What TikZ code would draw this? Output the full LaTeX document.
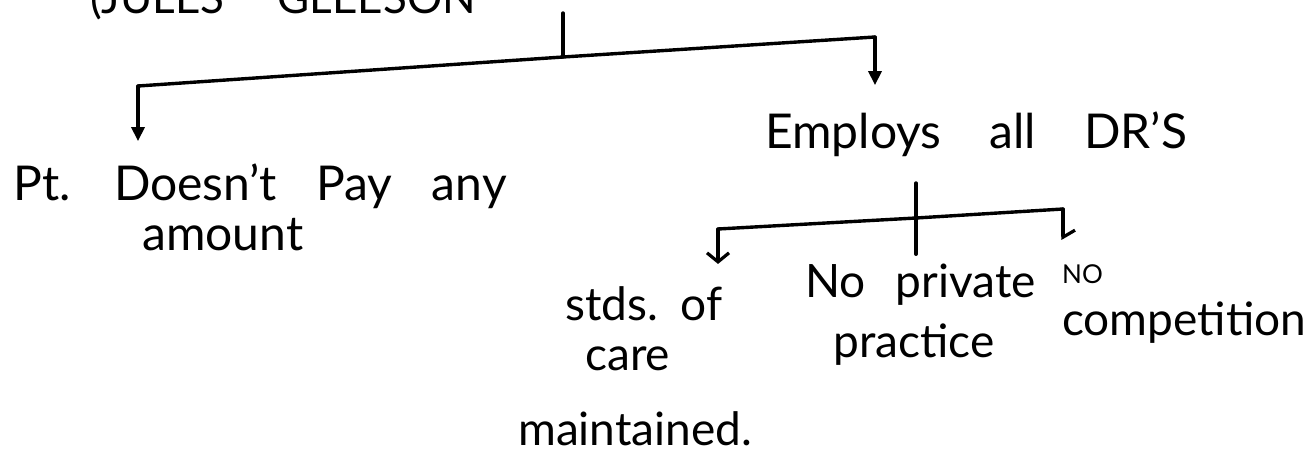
\documentclass[tikz,border=0pt]{standalone}
\usepackage{fontspec}
\setmainfont{Lato}
\usetikzlibrary{arrows.meta}
\newcommand{\wsp}[1]{\spaceskip=#1 plus 0.05em minus 0.05em\relax}
\tikzset{
  hand/.style={inner sep=0pt, anchor=base west, text=black},
  big/.style={hand, font=\fontsize{48}{52}\selectfont\wsp{0.82em}},
  mid/.style={hand, font=\fontsize{46}{52}\selectfont\wsp{0.5em}},
  link/.style={line width=3.4pt, line cap=round, line join=round, black},
  tri/.style={link, -{Triangle[length=14pt,width=13pt]}},
  barb/.style={link, -{Straight Barb[length=9pt,width=22pt,line width=3.2pt]}},
  halfbarb/.style={link, -{Straight Barb[left,length=7pt,width=24pt,line width=3.2pt]}},
}
\begin{document}
\begin{tikzpicture}[x=1pt,y=-1pt]
\useasboundingbox (0,0) rectangle (1314,453);
\fill[white] (0,0) rectangle (1314,453);
\clip (0,0) rectangle (1314,453);
% cut-off title
\node[hand, font=\fontsize{44}{50}\selectfont\wsp{1.2em}] (title) at (90,13) {(JULES GLEESON};
% first level
\coordinate (t0) at (563,13);
\coordinate (j1) at (563,57);
\coordinate (l1) at (138,86);
\coordinate (r1) at (875,37);
\node[big] (pt) at (13,200) {Pt. Doesn’t Pay any};
\node[big] (pt2) at (142,250) {amount};
\node[big, font=\fontsize{48}{52}\selectfont\wsp{1.0em}] (emp) at (765,148) {Employs all DR’S};
\draw[link] (t0) -- (j1);
\draw[link] (l1) -- (j1) -- (r1);
\draw[tri] (l1) -- ([yshift=22pt]l1 |- pt.north);
\draw[tri] (r1) -- ([yshift=26pt]r1 |- emp.north);
% second level
\coordinate (m2t) at (916,183);
\coordinate (m2) at (916,218);
\coordinate (l2) at (718,229);
\coordinate (r2) at (1063,209);
\node[mid, font=\fontsize{46}{52}\selectfont\wsp{0.4em}] (stds) at (565,320) {stds. of};
\node[mid] (stds2) at (585,370) {care};
\node[mid] (maint) at (518,445) {maintained.};
\node[mid, font=\fontsize{46}{52}\selectfont\wsp{0.65em}] (npp) at (805,297) {No private};
\node[mid] (npp2) at (833,357) {practice};
\node[hand, font=\fontsize{26}{30}\selectfont] (noc) at (1062,283) {NO};
\node[mid] (noc2) at (1062,335) {competition};
\draw[link] (m2t) -- (m2) -- ([yshift=9pt]m2 |- npp.north);
\draw[link] (l2) -- (m2) -- (r2);
\draw[barb] (l2) -- ([yshift=22pt]l2 |- stds.north);
\draw[halfbarb] (r2) -- ([yshift=24pt]r2 |- noc.north);
\end{tikzpicture}
\end{document}
